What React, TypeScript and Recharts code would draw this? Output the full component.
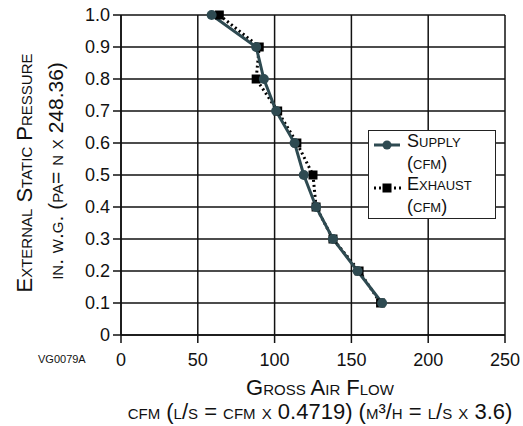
import { LineChart, Line, XAxis, YAxis, CartesianGrid, Legend } from 'recharts'

const pressure = [1.0, 0.9, 0.8, 0.7, 0.6, 0.5, 0.4, 0.3, 0.2, 0.1]
const supplyCfm = [59, 88, 93, 101, 113, 119, 127, 138, 154, 170]
const exhaustCfm = [64, 90, 88, 102, 114.5, 125, 127, 138, 155, 169]
const xTicks = [0, 50, 100, 150, 200, 250]
const yTicks = [0, 0.1, 0.2, 0.3, 0.4, 0.5, 0.6, 0.7, 0.8, 0.9, 1.0]

const supplyData = pressure.map((p, i) => ({ cfm: supplyCfm[i], p }))
const exhaustData = pressure.map((p, i) => ({ cfm: exhaustCfm[i], p }))

const SUPPLY = '#2e4a51'
const FONT = 'Arial, "Liberation Sans", Helvetica, sans-serif'

const fmtY = (v: number) => (v === 0 ? '0' : v.toFixed(1))

const SupplyDot = (props: any) => {
  const { cx, cy } = props
  if (cx == null || cy == null) return null
  return <circle cx={cx} cy={cy} r={5} fill={SUPPLY} />
}

const ExhaustDot = (props: any) => {
  const { cx, cy } = props
  if (cx == null || cy == null) return null
  return <rect x={cx - 4.5} y={cy - 4.5} width={9} height={9} fill="#000" />
}

const LegendBox = () => (
  <div
    style={{
      background: '#fff',
      border: '1.5px solid #222',
      fontFamily: FONT,
      fontSize: 18,
      lineHeight: '21.5px',
      fontVariant: 'small-caps',
      color: '#111',
      boxSizing: 'border-box',
      width: 128,
      height: 89,
      position: 'relative',
    }}
  >
    <svg width={30} height={14} style={{ position: 'absolute', left: 4, top: 7 }}>
      <line x1={1} y1={7} x2={27} y2={7} stroke={SUPPLY} strokeWidth={3} />
      <circle cx={14} cy={7} r={4.5} fill={SUPPLY} />
    </svg>
    <svg width={30} height={14} style={{ position: 'absolute', left: 4, top: 50 }}>
      <line x1={1} y1={7} x2={28} y2={7} stroke="#000" strokeWidth={3} strokeDasharray="2 3" />
      <rect x={9.5} y={2.5} width={9} height={9} fill="#000" />
    </svg>
    <div style={{ paddingLeft: 38 }}>
      <div>Supply</div>
      <div>(cfm)</div>
      <div>Exhaust</div>
      <div>(cfm)</div>
    </div>
  </div>
)

export default function App() {
  return (
    <div style={{ position: 'absolute', left: 0, top: 0, width: 523, height: 426, background: '#fff' }}>
      <LineChart width={523} height={426} margin={{ top: 15, right: 18, left: 0, bottom: 0 }}>
        <CartesianGrid stroke="#111" strokeWidth={1.5} />
        <XAxis
          type="number"
          dataKey="cfm"
          domain={[0, 250]}
          ticks={xTicks}
          height={91}
          tickSize={8}
          tickMargin={10}
          axisLine={{ stroke: '#111', strokeWidth: 1.5 }}
          tickLine={{ stroke: '#111', strokeWidth: 1.5 }}
          tick={{ fill: '#111', fontSize: 18, fontFamily: FONT }}
          allowDuplicatedCategory={false}
        />
        <YAxis
          type="number"
          dataKey="p"
          domain={[0, 1]}
          ticks={yTicks}
          width={121}
          tickSize={8}
          tickMargin={3}
          tickFormatter={fmtY}
          axisLine={{ stroke: '#111', strokeWidth: 1.5 }}
          tickLine={{ stroke: '#111', strokeWidth: 1.5 }}
          tick={{ fill: '#111', fontSize: 18, fontFamily: FONT }}
        />
        <Legend
          layout="vertical"
          align="center"
          verticalAlign="middle"
          content={() => <LegendBox />}
          wrapperStyle={{ left: 368, top: 130, width: 128, height: 89 }}
        />
        <Line
          data={exhaustData}
          dataKey="p"
          name="Exhaust (cfm)"
          type="linear"
          stroke="#000"
          strokeWidth={3}
          strokeDasharray="2 3"
          dot={<ExhaustDot />}
          activeDot={false}
          isAnimationActive={false}
        />
        <Line
          data={supplyData}
          dataKey="p"
          name="Supply (cfm)"
          type="linear"
          stroke={SUPPLY}
          strokeWidth={3}
          dot={<SupplyDot />}
          activeDot={false}
          isAnimationActive={false}
        />
      </LineChart>
      <svg
        width={523}
        height={426}
        style={{ position: 'absolute', left: 0, top: 0, pointerEvents: 'none' }}
        fontFamily={FONT}
        fill="#111"
      >
        <text
          transform="translate(32,173) rotate(-90)"
          textAnchor="middle"
          fontSize={22}
          style={{ fontVariant: 'small-caps' }}
        >
          External Static Pressure
        </text>
        <text
          transform="translate(63,171) rotate(-90)"
          textAnchor="middle"
          fontSize={21}
          style={{ fontVariant: 'small-caps' }}
        >
          in. w.g. (pa= n x 248.36)
        </text>
        <text x={320} y={395} textAnchor="middle" fontSize={22} style={{ fontVariant: 'small-caps' }}>
          Gross Air Flow
        </text>
        <text x={320} y={419} textAnchor="middle" fontSize={22} style={{ fontVariant: 'small-caps' }}>
          cfm (l/s = cfm x 0.4719) (m³/h = l/s x 3.6)
        </text>
        <text x={38} y={363} fontSize={11}>
          VG0079A
        </text>
      </svg>
    </div>
  )
}
